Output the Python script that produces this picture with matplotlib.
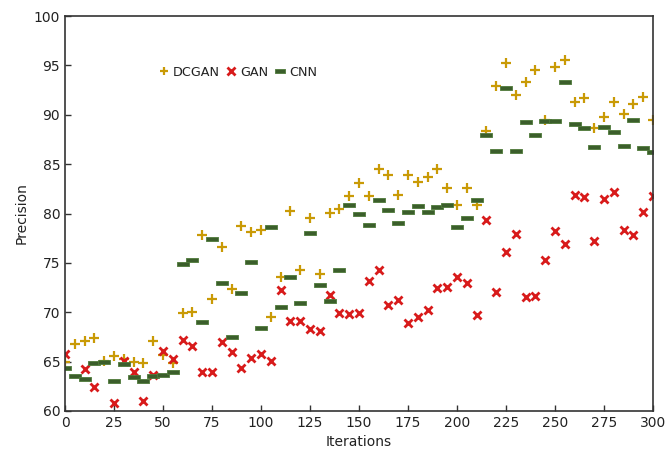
import matplotlib
matplotlib.use("Agg")
import matplotlib.pyplot as plt
import numpy as np
from matplotlib.path import Path

iterations = np.arange(0, 301, 5)

dcgan = [65.0, 66.8, 67.1, 67.4, 65.1, 65.6, 65.3, 65.0, 64.9, 67.1,
         65.7, 64.9, 69.9, 70.0, 77.8, 71.3, 76.6, 72.4, 78.7, 78.1,
         78.3, 69.5, 73.6, 80.3, 74.3, 79.5, 73.9, 80.1, 80.5, 81.8,
         83.1, 81.8, 84.5, 83.9, 81.9, 83.9, 83.2, 83.7, 84.5, 82.6,
         80.9, 82.6, 80.9, 88.4, 92.9, 95.2, 92.0, 93.3, 94.5, 89.5,
         94.8, 95.5, 91.3, 91.7, 88.7, 89.8, 91.3, 90.1, 91.1, 91.8,
         89.5]

gan = [65.8, np.nan, 64.3, 62.4, np.nan, 60.8, 65.1, 63.9, 61.0, 63.6,
       66.1, 65.3, 67.2, 66.6, 63.9, 63.9, 67.0, 66.0, 64.4, 65.4,
       65.8, 65.1, 72.3, 69.1, 69.1, 68.3, 68.1, 71.7, 69.9, 69.8,
       69.9, 73.2, 74.3, 70.7, 71.2, 68.9, 69.5, 70.2, 72.5, 72.6,
       73.6, 73.0, 69.7, 79.3, 72.1, 76.1, 77.9, 71.5, 71.6, 75.3,
       78.2, 76.9, 81.9, 81.7, 77.2, 81.5, 82.2, 78.3, 77.8, 80.2,
       81.8]

cnn = [64.4, 63.5, 63.2, 64.9, 65.0, 63.0, 64.8, 63.4, 63.0, 63.5,
       63.6, 64.0, 74.9, 75.3, 69.0, 77.4, 73.0, 67.5, 71.9, 75.1,
       68.4, 78.6, 70.5, 73.6, 70.9, 78.0, 72.8, 71.1, 74.3, 80.9,
       79.9, 78.8, 81.4, 80.4, 79.0, 80.2, 80.8, 80.2, 80.7, 80.9,
       78.6, 79.5, 81.4, 87.9, 86.3, 92.7, 86.3, 89.3, 87.9, 89.4,
       89.4, 93.35, 89.1, 88.7, 86.7, 88.8, 88.3, 86.8, 89.5, 86.6,
       86.2]

# flat bar marker for the CNN series
bar = Path([(-1, -0.33), (1, -0.33), (1, 0.33), (-1, 0.33), (-1, -0.33)],
           [Path.MOVETO, Path.LINETO, Path.LINETO, Path.LINETO, Path.CLOSEPOLY])

fig = plt.figure(figsize=(6.66, 4.59), dpi=100)
ax = fig.add_axes([65 / 666, 1 - 411 / 459, 588 / 666, 395 / 459])

ax.plot(iterations, dcgan, linestyle="none", marker="+", markersize=7.5,
        markeredgewidth=1.6, color="#c99a06", label="DCGAN")
ax.plot(iterations, gan, linestyle="none", marker="x", markersize=6,
        markeredgewidth=2.0, color="#d81b1b", label="GAN")
ax.plot(iterations, cnn, linestyle="none", marker=bar, markersize=8.2,
        markeredgewidth=0.6, color="#3b5e2b", markeredgecolor="#4f7a3a",
        label="CNN")

ax.set_xlim(0, 300)
ax.set_ylim(60, 100)
ax.set_xticks(np.arange(0, 301, 25))
ax.set_yticks(np.arange(60, 101, 5))
ax.tick_params(direction="in", length=4, width=1, colors="#333333",
               labelsize=10, labelcolor="#222222")
for s in ax.spines.values():
    s.set_color("#333333")
    s.set_linewidth(1.2)

ax.set_xlabel("Iterations", fontsize=10, color="#222222")
ax.set_ylabel("Precision", fontsize=10, color="#222222")

leg = ax.legend(loc="center left", bbox_to_anchor=(0.148, 0.858), ncol=3,
                frameon=False, handlelength=0.8, handletextpad=0.35,
                columnspacing=0.45, borderpad=0, fontsize=9.2,
                markerscale=0.85)
for t in leg.get_texts():
    t.set_color("#222222")

fig.savefig("out.png", dpi=100)
